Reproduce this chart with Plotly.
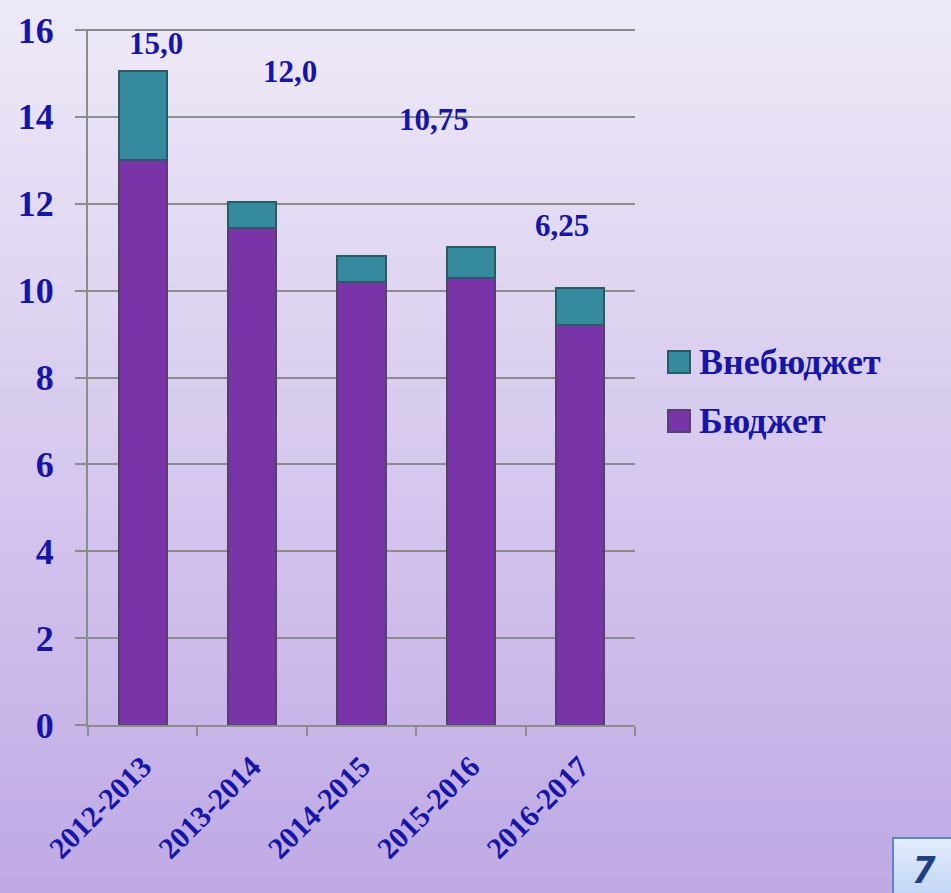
import plotly.graph_objects as go

# данные диаграммы
years = ["2012-2013", "2013-2014", "2014-2015", "2015-2016", "2016-2017"]
budget = [13.0, 11.45, 10.2, 10.3, 9.2]
extra = [2.05, 0.6, 0.6, 0.7, 0.85]
note_text = ["15,0", "12,0", "10,75", "6,25"]

# положение подписей (индекс категории, значение по оси y)
note_x = [0.12, 1.35, 2.66, 3.83]
note_y = [15.7, 15.05, 13.95, 11.5]

blue = "#1616A6"
serif = "Liberation Serif, Times New Roman, serif"
grey = "#8C8C8C"

fig = go.Figure()

fig.add_trace(go.Bar(
    x=years, y=budget, name="Бюджет", width=0.44,
    marker=dict(color="#7934A8", line=dict(color="#56406E", width=2)),
))
fig.add_trace(go.Bar(
    x=years, y=extra, name="Внебюджет", width=0.44,
    marker=dict(color="#358A9E", line=dict(color="#2A5A66", width=2)),
))

# фон с градиентом
L, R, T, B = 88, 316, 30, 168
W, H = 951, 893
pw, ph = W - L - R, H - T - B


def px_x(p):
    return (p - L) / pw


def px_y(p):
    return (H - B - p) / ph


def gradient(x0, x1, y0, y1, c_top, c_bot, n, layer="below"):
    out = []
    for i in range(n):
        t = i / max(n - 1, 1)
        c = tuple(round(c_top[k] + (c_bot[k] - c_top[k]) * t) for k in range(3))
        ya = y0 + (y1 - y0) * i / n
        yb = y0 + (y1 - y0) * (i + 1) / n + 1
        out.append(dict(
            type="rect", xref="paper", yref="paper", layer=layer,
            x0=px_x(x0), x1=px_x(x1), y0=px_y(yb), y1=px_y(ya),
            fillcolor="rgb(%d,%d,%d)" % c, line=dict(width=0),
        ))
    return out


shapes = gradient(0, W, 0, H, (238, 233, 247), (191, 170, 229), 60)

# верхняя линия сетки (на 16)
shapes.append(dict(
    type="line", xref="paper", yref="paper", x0=px_x(77), x1=1, y0=1, y1=1,
    line=dict(color=grey, width=2),
))

# легенда вручную
legend_items = [("Внебюджет", "#358A9E", "#2A5A66", 362), ("Бюджет", "#7934A8", "#56406E", 421)]
annotations = []
for label, col, edge, yc in legend_items:
    shapes.append(dict(
        type="rect", xref="paper", yref="paper",
        x0=px_x(668), x1=px_x(690), y0=px_y(yc + 11), y1=px_y(yc - 11),
        fillcolor=col, line=dict(color=edge, width=2),
    ))
    annotations.append(dict(
        xref="paper", yref="paper", x=px_x(697), y=px_y(yc),
        xanchor="left", yanchor="middle", text=label, showarrow=False,
        font=dict(family=serif, size=36, color=blue, weight="bold"),
    ))

# номер слайда
shapes += gradient(893, 953, 838, 895, (226, 235, 252), (196, 214, 245), 12, layer="above")
shapes.append(dict(
    type="rect", xref="paper", yref="paper",
    x0=px_x(893), x1=px_x(953), y0=px_y(895), y1=px_y(838),
    fillcolor="rgba(0,0,0,0)", line=dict(color="#5B86C6", width=2),
))
annotations.append(dict(
    xref="paper", yref="paper", x=px_x(924), y=px_y(868),
    text="<i>7</i>", showarrow=False, xanchor="center", yanchor="middle",
    font=dict(family="Open Sans, DejaVu Sans, sans-serif", size=38, color="#1F3F80", weight="bold"),
))

for txt, xx, yy in zip(note_text, note_x, note_y):
    annotations.append(dict(
        x=xx, y=yy, xref="x", yref="y", text=txt, showarrow=False,
        font=dict(family=serif, size=31, color=blue, weight="bold"),
    ))

fig.update_layout(
    barmode="stack",
    width=W, height=H,
    margin=dict(l=L, r=R, t=T, b=B),
    paper_bgcolor="rgb(191,170,229)",
    plot_bgcolor="rgba(0,0,0,0)",
    showlegend=False,
    shapes=shapes,
    annotations=annotations,
    font=dict(family=serif, color=blue),
    xaxis=dict(
        showline=True, linecolor=grey, linewidth=2,
        ticks="outside", tickson="boundaries", ticklen=9, tickcolor=grey, tickwidth=2,
        tickangle=-45, tickfont=dict(family=serif, size=30, color=blue, weight="bold"),
        ticklabelstandoff=10, showgrid=False,
    ),
    yaxis=dict(
        range=[0, 16], tickvals=[0, 2, 4, 6, 8, 10, 12, 14, 16],
        showline=True, linecolor=grey, linewidth=2,
        gridcolor=grey, gridwidth=2, zeroline=False,
        ticks="outside", ticklen=11, tickcolor=grey, tickwidth=2,
        tickfont=dict(family=serif, size=36, color=blue, weight="bold"),
        ticklabelstandoff=14,
    ),
)

fig.write_html("out.html", config={"displayModeBar": False},
               post_script="document.body.style.margin='0';")
